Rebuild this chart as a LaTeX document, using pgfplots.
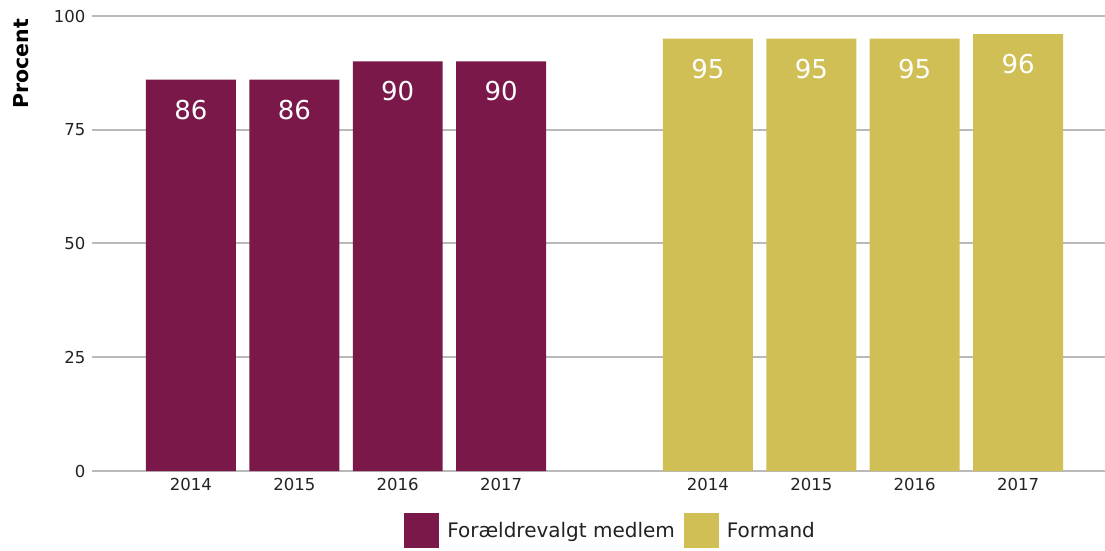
\documentclass[border=0pt]{standalone}
\usepackage{pgfplots}
\pgfplotsset{compat=1.18}
\usepackage{fontspec}
\setmainfont{DejaVu Sans}
\definecolor{cA}{RGB}{122,24,74}
\definecolor{cB}{RGB}{208,191,84}
\definecolor{gridc}{RGB}{185,185,185}
\definecolor{txt}{RGB}{34,34,34}
\begin{document}
\begin{tikzpicture}
\useasboundingbox (-92pt,-80pt) rectangle (1013pt,471pt);
\begin{axis}[
  scale only axis,
  width=1013pt, height=455pt,
  xmin=-0.957, xmax=8.84,
  ymin=0, ymax=100,
  axis line style={draw=none},
  ytick={0,25,50,75,100},
  xtick={0,1,2,3,5,6,7,8},
  xticklabels={2014,2015,2016,2017,2014,2015,2016,2017},
  major tick length=0pt,
  ymajorgrids,
  grid style={gridc, line width=2pt},
  tick label style={font=\fontsize{16.5}{18}\selectfont, text=txt},
  yticklabel style={xshift=-3pt},
  xticklabel style={yshift=-4pt},
  /pgf/number format/assume math mode=true,
  ylabel={\textbf{Procent}},
  ylabel style={font=\fontsize{20.5}{22}\selectfont, at={(rel axis cs:0,0.895)}, anchor=center, rotate=0, yshift=71pt},
  legend columns=2,
  legend style={draw=none, at={(0.511,-0.13)}, anchor=center, font=\fontsize{20}{22}\selectfont, text=txt,
    nodes={inner sep=0pt},
    /tikz/every odd column/.append style={column sep=8pt},
    /tikz/every even column/.append style={column sep=9pt}},
  legend image code/.code={\fill[#1] (0pt,-17.5pt) rectangle (35pt,17.5pt);},
  nodes near coords,
  every node near coord/.append style={font=\fontsize{26}{28}\selectfont, text=white, anchor=north, inner sep=0pt, yshift=-20pt},
  clip=false,
]
\addplot[ybar, bar width=0.87, bar shift=0pt, fill=cA, draw=none] coordinates {(0,86) (1,86) (2,90) (3,90)};
\addlegendentry{Forældrevalgt medlem}
\addplot[ybar, bar width=0.87, bar shift=0pt, fill=cB, draw=none] coordinates {(5,95) (6,95) (7,95) (8,96)};
\addlegendentry{Formand}
\end{axis}
\end{tikzpicture}
\end{document}
